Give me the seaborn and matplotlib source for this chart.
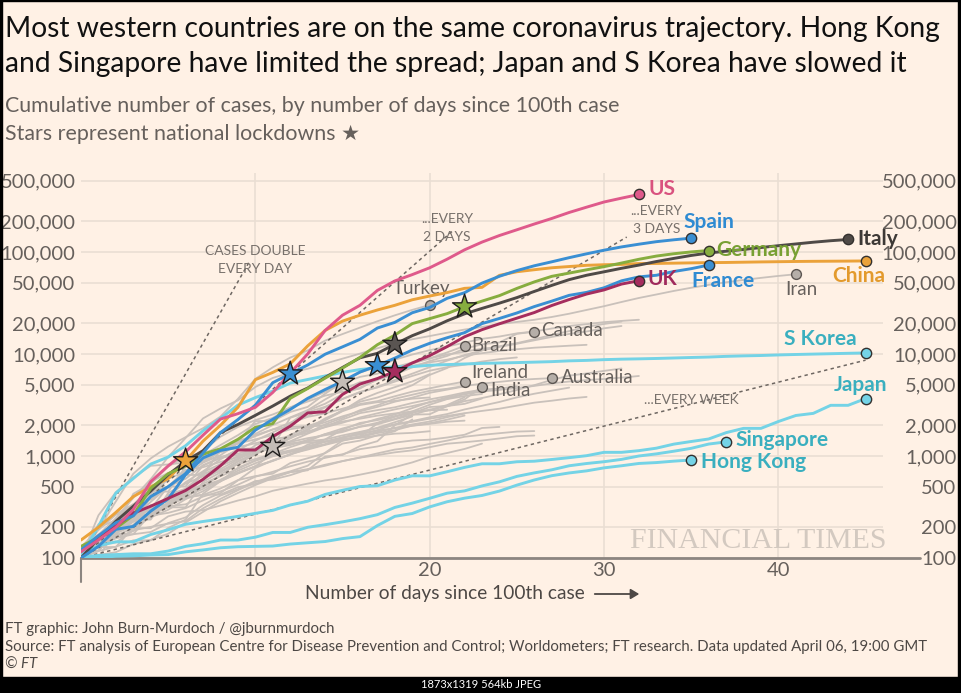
import numpy as np
import pandas as pd
import matplotlib
matplotlib.use("Agg")
import matplotlib.pyplot as plt
from matplotlib.patches import Rectangle, FancyArrowPatch
from matplotlib.ticker import NullLocator, FixedLocator
import seaborn as sns

# cumulative cases, one value per day since the 100th case
us = [115, 150, 200, 300, 560, 800, 1100, 1600, 2300, 2600, 3000, 4200, 6500, 10000, 17000, 24000, 30000,
      42000, 52000, 60000, 70000, 85000, 105000, 125000, 145000, 165000, 188000, 213000, 244000, 275000,
      309000, 337000, 366000]
spain = [120, 165, 222, 259, 400, 500, 673, 1073, 1695, 2277, 3146, 5232, 6391, 7798, 9942, 11748, 13910,
         17963, 20410, 25374, 28603, 35136, 39885, 49515, 57786, 65719, 73235, 80110, 87956, 95923, 104118,
         112065, 119199, 126168, 131646, 136675]
italy = [100, 155, 229, 322, 453, 655, 888, 1128, 1694, 2036, 2502, 3089, 3858, 4636, 5883, 7375, 9172,
         10149, 12462, 15113, 17660, 21157, 24747, 27980, 31506, 35713, 41035, 47021, 53578, 59138, 63927,
         69176, 74386, 80589, 86498, 92472, 97689, 101739, 105792, 110574, 115242, 119827, 124632, 128948,
         132547]
germany = [130, 159, 196, 262, 482, 670, 799, 1040, 1176, 1457, 1908, 2078, 3675, 4585, 5795, 7272, 9257,
           12327, 15320, 19848, 22213, 24873, 29056, 32986, 37323, 43938, 50871, 57695, 62095, 66885, 71808,
           77872, 84794, 91159, 96092, 100123, 103374]
france = [100, 130, 191, 204, 288, 380, 656, 957, 1134, 1217, 1792, 2289, 2860, 3672, 4480, 5400, 6650, 7700,
          9105, 10947, 12726, 14431, 16176, 19856, 22304, 25233, 29155, 32964, 37575, 40174, 44550, 52128,
          56989, 59105, 64338, 68605, 74390]
uk = [116, 164, 207, 274, 322, 384, 459, 590, 802, 1144, 1145, 1551, 1960, 2642, 2716, 4014, 5067, 5745, 6726,
      8164, 9640, 11812, 14745, 17312, 19780, 22453, 25481, 29865, 34173, 38689, 42477, 48440, 52279]
china = [150, 200, 280, 400, 500, 600, 900, 1400, 2000, 3000, 5600, 6600, 8000, 12000, 17000, 21000, 24000,
         27000, 30000, 34000, 37000, 40000, 44000, 45000, 59000, 64000, 67000, 70000, 72000, 74000, 75000,
         75500, 77000, 77200, 77700, 78200, 78600, 78900, 79400, 79900, 80300, 80700, 81000, 81200, 81400,
         81700]
s_korea = [104, 204, 433, 602, 833, 977, 1261, 1766, 2337, 3150, 3736, 4335, 5186, 5621, 6088, 6593, 7041,
           7314, 7478, 7513, 7755, 7869, 7979, 8086, 8162, 8236, 8320, 8413, 8565, 8652, 8799, 8897, 8961,
           9037, 9137, 9241, 9332, 9478, 9583, 9661, 9786, 9887, 9976, 10062, 10156, 10237]
japan = [105, 132, 144, 144, 170, 189, 214, 228, 241, 256, 274, 293, 331, 360, 420, 461, 502, 511, 581, 639,
         639, 701, 773, 839, 839, 878, 889, 924, 963, 1007, 1086, 1086, 1128, 1193, 1307, 1387, 1468, 1693,
         1866, 1866, 2178, 2495, 2617, 3139, 3139, 3654]
singapore = [102, 106, 108, 110, 110, 117, 130, 138, 150, 150, 160, 178, 178, 200, 212, 226, 243, 266, 313,
             345, 385, 432, 455, 509, 558, 631, 683, 732, 802, 844, 879, 926, 1000, 1049, 1114, 1189, 1309, 1375]
hong_kong = [100, 101, 104, 105, 107, 108, 115, 120, 126, 129, 130, 131, 137, 141, 145, 155, 162, 208, 256,
             273, 317, 356, 386, 410, 453, 518, 582, 641, 682, 715, 765, 802, 845, 862, 890, 914]

# grey countries with a label
iran = [100, 139, 245, 388, 593, 978, 1501, 2336, 2922, 3513, 4747, 5823, 6566, 7161, 8042, 9000, 10075,
        11364, 12729, 13938, 14991, 16169, 17361, 18407, 19644, 20610, 21638, 23049, 24811, 27017, 29406,
        32332, 35408, 38309, 41495, 44605, 47593, 50468, 53183, 55743, 58226, 60500]
turkey = [100, 191, 359, 670, 947, 1236, 1529, 1872, 2433, 3629, 5698, 7402, 9217, 10827, 13531, 15679,
          18135, 20921, 23934, 27069, 30217]
canada = [108, 117, 193, 198, 252, 415, 478, 657, 800, 943, 1277, 1469, 2088, 2790, 3251, 4042, 4682, 5576,
          6280, 7398, 8527, 9560, 11284, 12437, 12978, 15756, 16563]
brazil = [121, 200, 234, 291, 428, 621, 904, 1128, 1546, 1924, 2247, 2554, 2985, 3417, 3904, 4256, 4579,
          5717, 6836, 8044, 9056, 10360, 12000]
ireland = [129, 169, 223, 292, 557, 683, 785, 906, 1125, 1329, 1564, 1819, 2121, 2415, 2615, 2910, 3235,
           3447, 3849, 4273, 4604, 4994, 5364]
india = [100, 107, 114, 137, 151, 173, 223, 283, 360, 434, 519, 606, 694, 724, 987, 1024, 1251, 1397, 1998,
         2543, 2567, 3082, 3588, 4778]
australia = [107, 128, 128, 200, 250, 297, 377, 452, 568, 681, 791, 1071, 1549, 1682, 2044, 2364, 2810, 3143,
             3640, 3984, 4361, 4559, 4862, 5116, 5330, 5550, 5687, 5797]

# other grey countries
switzerland = [114, 214, 268, 337, 374, 491, 652, 652, 1139, 1359, 2200, 2200, 2700, 3028, 4075, 5294, 6575,
               7474, 8795, 9877, 10897, 11811, 12928, 14076, 14829, 15922, 16605, 17768, 18827, 19606, 20505,
               21100, 21657]
belgium = [109, 169, 200, 239, 267, 314, 314, 559, 689, 886, 1058, 1243, 1486, 1795, 2257, 2815, 3401, 3743,
           4269, 4937, 6235, 7284, 9134, 10836, 11899, 12775, 13964, 15348, 16770, 18431, 19691, 20814]
netherlands = [128, 188, 265, 321, 382, 503, 503, 804, 959, 1135, 1413, 1705, 2051, 2460, 2994, 3631, 4204,
               4749, 5560, 6412, 7431, 8603, 9762, 10866, 11750, 12595, 13614, 14697, 15723, 16627, 17851, 18803]
austria = [104, 131, 182, 246, 302, 504, 655, 860, 1018, 1332, 1646, 2013, 2388, 2814, 3582, 4474, 5283,
           5588, 6909, 7657, 8271, 8788, 9618, 10180, 10711, 11129, 11524, 11781, 12051, 12297]
portugal = [112, 169, 245, 331, 448, 448, 785, 1020, 1280, 1600, 2060, 2362, 2995, 3544, 4268, 5170, 5962,
            6408, 7443, 8251, 9034, 9886, 10524, 11278, 11730]
sweden = [101, 161, 203, 248, 355, 500, 599, 814, 961, 1022, 1103, 1190, 1279, 1439, 1639, 1763, 1934, 2046,
          2286, 2526, 2840, 3069, 3447, 3700, 4028, 4435, 4947, 5568, 6131, 6443, 6830, 7206]
norway = [108, 147, 176, 205, 400, 598, 702, 996, 1090, 1221, 1333, 1463, 1550, 1746, 1914, 2118, 2385, 2621,
          2863, 3084, 3369, 3755, 4015, 4284, 4445, 4641, 4863, 5147, 5370, 5550, 5687, 5865, 6086]
denmark = [100, 262, 442, 615, 801, 827, 864, 914, 977, 1057, 1151, 1255, 1326, 1395, 1450, 1591, 1724, 1877,
           2046, 2201, 2395, 2577, 2860, 3107, 3386, 3757, 4077, 4369, 4681]
israel = [109, 131, 193, 251, 255, 337, 433, 677, 705, 883, 1071, 1238, 2369, 2693, 3035, 3619, 4247, 4695,
          5358, 6092, 6857, 7428, 7851, 8430, 8904, 9248]
czechia = [100, 141, 189, 253, 298, 396, 464, 694, 833, 995, 1120, 1236, 1394, 1654, 1925, 2279, 2631, 2817,
           3001, 3308, 3589, 3858, 4190, 4472, 4587, 4822]
malaysia = [100, 117, 129, 149, 149, 197, 238, 428, 566, 673, 790, 900, 1030, 1183, 1306, 1518, 1624, 1796,
            2031, 2161, 2320, 2470, 2626, 2766, 2908, 3116, 3333, 3483, 3662, 3793]
russia = [114, 147, 199, 253, 306, 367, 438, 495, 658, 840, 1036, 1264, 1534, 1836, 2337, 2777, 3548, 4149,
          4731, 5389, 6343]
poland = [103, 119, 177, 238, 251, 355, 425, 536, 634, 749, 901, 1051, 1221, 1389, 1638, 1862, 2055, 2311,
          2554, 2946, 3383, 3627, 4102, 4413]
chile = [100, 156, 201, 238, 238, 434, 537, 632, 746, 922, 1142, 1306, 1610, 1909, 2139, 2449, 2738, 3031,
         3404, 3737, 4161, 4471, 4815]
ecuador = [111, 168, 199, 426, 532, 789, 981, 1082, 1173, 1403, 1595, 1823, 1924, 1962, 2240, 2748, 3163,
           3368, 3465, 3646, 3747]
luxembourg = [100, 140, 203, 335, 484, 670, 798, 875, 1099, 1333, 1453, 1605, 1831, 1950, 1988, 2178, 2319,
              2487, 2612, 2729, 2804, 2843]
philippines = [111, 140, 142, 187, 202, 217, 230, 307, 380, 462, 552, 636, 707, 803, 1075, 1418, 1546, 2084,
               2311, 2633, 3018, 3094, 3246, 3660]
pakistan = [100, 136, 236, 299, 454, 501, 730, 776, 875, 972, 1063, 1201, 1373, 1495, 1597, 1717, 1938, 2118,
            2421, 2686, 2818, 3157, 3766]
saudi = [103, 118, 171, 171, 274, 344, 392, 511, 562, 767, 900, 1012, 1104, 1203, 1299, 1453, 1563, 1720,
         1885, 2039, 2179, 2402, 2605]
thailand = [114, 147, 177, 212, 272, 322, 411, 599, 721, 827, 934, 1045, 1136, 1245, 1388, 1524, 1651, 1771,
            1875, 1978, 2067, 2169, 2220]
indonesia = [117, 134, 172, 227, 311, 369, 450, 514, 579, 686, 790, 893, 1046, 1155, 1285, 1414, 1528, 1677,
             1790, 1986, 2092, 2273, 2491]
finland = [109, 155, 225, 244, 277, 321, 336, 400, 450, 523, 626, 700, 792, 880, 958, 1041, 1167, 1240, 1352,
           1418, 1446, 1518, 1615, 1882, 1927]
greece = [100, 100, 190, 228, 331, 331, 387, 418, 418, 495, 530, 624, 695, 743, 821, 892, 966, 1061, 1156,
          1212, 1314, 1415, 1544, 1613, 1673, 1735, 1755]
iceland = [103, 134, 156, 171, 180, 220, 250, 330, 409, 473, 568, 588, 648, 737, 802, 890, 963, 1020, 1086,
           1135, 1220, 1319, 1364, 1417, 1486, 1562, 1586]
mexico = [118, 164, 203, 251, 316, 367, 405, 475, 585, 717, 848, 993, 1094, 1215, 1378, 1510, 1688, 1890,
          2143, 2439]
peru = [117, 145, 234, 234, 318, 363, 395, 416, 480, 580, 635, 671, 852, 950, 1065, 1323, 1414, 1595, 1746,
        2281]
egypt = [110, 126, 166, 196, 196, 256, 285, 294, 327, 366, 402, 456, 495, 536, 576, 609, 656, 710, 779, 865,
         985, 1070, 1173, 1322]
south_africa = [116, 150, 202, 240, 274, 402, 554, 709, 927, 1170, 1187, 1280, 1326, 1353, 1380, 1462, 1505,
                1585, 1655, 1686, 1749]
romania = [123, 131, 158, 184, 260, 277, 308, 367, 433, 576, 762, 906, 1029, 1292, 1452, 1815, 2109, 2245,
           2460, 2738, 3183, 3613, 3864, 4057]

# national lockdowns (day, cases)
lockdown_day = [6, 12, 11, 15, 18, 17, 18, 22]
lockdown_cases = [900, 6391, 1243, 5294, 12462, 7700, 6726, 29056]

# doubling guides: end point of each dashed line (all start at day 0, 100 cases)
guide_end_day = [9.7, 21.3, 31.3, 45]
guide_end_cases = [83000, 160000, 140000, 8700]

y_ticks = [100, 200, 500, 1000, 2000, 5000, 10000, 20000, 50000, 100000, 200000, 500000]
x_ticks = [10, 20, 30, 40]

BG = "#fff1e5"
GREY_LINE = "#c9c1bb"
GREY_TEXT = "#66605c"
CYAN = "#74d3e6"
CYAN_TEXT = "#3aafbf"
BLUE = "#3a8fd3"

sns.set_theme(style="white")
plt.rcParams["font.family"] = ["Lato", "DejaVu Sans"]

fig = plt.figure(figsize=(9.62, 6.93), dpi=100, facecolor=BG)
ax = fig.add_axes([81 / 962, 135 / 693, 802 / 962, 385.4 / 693])
ax.set_facecolor(BG)
ax.set_yscale("log")

grey_countries = [("Iran", iran), ("Turkey", turkey), ("Canada", canada), ("Brazil", brazil),
                  ("Ireland", ireland), ("India", india), ("Australia", australia),
                  ("Switzerland", switzerland), ("Belgium", belgium), ("Netherlands", netherlands),
                  ("Austria", austria), ("Portugal", portugal), ("Sweden", sweden), ("Norway", norway),
                  ("Denmark", denmark), ("Israel", israel), ("Czechia", czechia), ("Malaysia", malaysia),
                  ("Russia", russia), ("Poland", poland), ("Chile", chile), ("Ecuador", ecuador),
                  ("Luxembourg", luxembourg), ("Philippines", philippines), ("Pakistan", pakistan),
                  ("Saudi Arabia", saudi), ("Thailand", thailand), ("Indonesia", indonesia),
                  ("Finland", finland), ("Greece", greece), ("Iceland", iceland), ("Mexico", mexico),
                  ("Peru", peru), ("Egypt", egypt), ("South Africa", south_africa), ("Romania", romania)]

grey_df = pd.concat([pd.DataFrame({"country": n, "day": np.arange(len(v)), "cases": v})
                     for n, v in grey_countries], ignore_index=True)
sns.lineplot(data=grey_df, x="day", y="cases", units="country", estimator=None, color=GREY_LINE,
             lw=1.3, ax=ax, zorder=2, legend=False)

# doubling guides
for d, c in zip(guide_end_day, guide_end_cases):
    ax.plot([0, d], [100, c], ls=(0, (2.2, 2.2)), color="#6e6762", lw=1.1, zorder=3)

# highlighted countries: (name, values, line colour, label colour, label offset px, ha)
highlight = [
    ("Hong Kong", hong_kong, CYAN, CYAN_TEXT, (10, -2), "left"),
    ("Singapore", singapore, CYAN, CYAN_TEXT, (9, 2), "left"),
    ("Japan", japan, CYAN, CYAN_TEXT, (22, 14), "right"),
    ("S Korea", s_korea, CYAN, CYAN_TEXT, (-9, 14), "right"),
    ("China", china, "#eba23a", "#e39a2c", (20, -15), "right"),
    ("Italy", italy, "#4f4a47", "#3d3936", (9, 0), "left"),
    ("Germany", germany, "#87ad3f", "#78a033", (8, 1), "left"),
    ("France", france, BLUE, "#2f8bd2", (-17, -16), "left"),
    ("UK", uk, "#a52d5e", "#a02a5c", (9, 2), "left"),
    ("Spain", spain, BLUE, "#2f8bd2", (-8, 16), "left"),
    ("US", us, "#df5a8b", "#d9527f", (10, 5), "left"),
]

for i, (name, vals, lc, tc, off, ha) in enumerate(highlight):
    days = np.arange(len(vals))
    sns.lineplot(x=days, y=vals, color=lc, lw=2.1, ax=ax, zorder=5 + i * 0.01)

# lockdown stars
star_colors = ["#eba23a", BLUE, "#c4bdb7", "#c4bdb7", "#5a5552", BLUE, "#a52d5e", "#87ad3f"]
ax.scatter(lockdown_day, lockdown_cases, marker="*", s=330, c=star_colors, edgecolors="#1f1d1c",
           linewidths=1.0, zorder=8)

# end markers + labels, highlighted
for name, vals, lc, tc, off, ha in highlight:
    x_end, y_end = len(vals) - 1, vals[-1]
    sns.scatterplot(x=[x_end], y=[y_end], s=55, color=lc, edgecolor="#33302e", linewidth=1.0,
                    ax=ax, zorder=9, clip_on=False)
    ax.annotate(name, (x_end, y_end), xytext=off, textcoords="offset pixels", ha=ha, va="center",
                fontsize=15, fontweight="bold", color=tc, zorder=10, annotation_clip=False)

# end markers + labels, grey
grey_labels = [("Turkey", turkey, (-37, 16)), ("Iran", iran, (-11, -15)), ("Canada", canada, (7, 1)),
               ("Brazil", brazil, (7, 0)), ("Ireland", ireland, (7, 9)), ("India", india, (8, -4)),
               ("Australia", australia, (9, 1))]
for name, vals, off in grey_labels:
    x_end, y_end = len(vals) - 1, vals[-1]
    sns.scatterplot(x=[x_end], y=[y_end], s=50, color="#b5aea8", edgecolor="#5c5652", linewidth=1.0,
                    ax=ax, zorder=4)
    ax.annotate(name, (x_end, y_end), xytext=off, textcoords="offset pixels", ha="left", va="center",
                fontsize=13.5, color=GREY_TEXT, zorder=4)

# guide labels
guide_txt = dict(fontsize=10, color="#77706b", ha="center", va="center", linespacing=1.6, zorder=3)
ax.text(10, 83000, "CASES DOUBLE\nEVERY DAY", **guide_txt)
ax.text(21.0, 170000, "...EVERY\n2 DAYS", **guide_txt)
ax.text(33.0, 205000, "...EVERY\n3 DAYS", **guide_txt)
ax.text(35.0, 3530, "...EVERY WEEK", **guide_txt)

# axes styling
ax.set_xlim(0, 46)
ax.set_ylim(100, 600000)
ax.yaxis.set_major_locator(FixedLocator(y_ticks))
ax.yaxis.set_minor_locator(NullLocator())
ax.set_yticklabels([f"{t:,}" for t in y_ticks])
ax.set_xticks(x_ticks)
ax.set_xticklabels([str(t) for t in x_ticks])
ax.set_xlabel("")
ax.set_ylabel("")
ax.grid(True, color="#eaded3", lw=1.2, zorder=0)
ax.set_axisbelow(True)
for s in ax.spines.values():
    s.set_visible(False)
ax.tick_params(axis="y", length=0, pad=4, labelsize=14.5, labelcolor=GREY_TEXT)
ax.tick_params(axis="x", length=0, pad=3, labelsize=14.5, labelcolor=GREY_TEXT)
ax.axhline(100, xmin=0, xmax=(920 - 81) / 802, color="#8c8580", lw=2, clip_on=False, zorder=4)
ax.axvline(0, ymin=-24 / 385.4, ymax=0, color="#8c8580", lw=1.5, clip_on=False)

ax2 = ax.twinx()
ax2.set_yscale("log")
ax2.set_ylim(ax.get_ylim())
ax2.yaxis.set_major_locator(FixedLocator(y_ticks))
ax2.yaxis.set_minor_locator(NullLocator())
ax2.set_yticklabels([f"{t:,}" for t in y_ticks])
ax2.tick_params(axis="y", length=0, pad=53, labelsize=14.5, labelcolor=GREY_TEXT)
for lab in ax2.get_yticklabels():
    lab.set_horizontalalignment("right")
for s in ax2.spines.values():
    s.set_visible(False)
ax2.grid(False)

# watermark
fig.text(758 / 962, 1 - 541 / 693, "FINANCIAL TIMES", family="Liberation Serif", fontsize=21.5,
         color="#d3c9c0", ha="center", va="center")

# titles
fig.text(5 / 962, 1 - 37 / 693, "Most western countries are on the same coronavirus trajectory. Hong Kong",
         fontsize=20.3, color="#111", va="baseline")
fig.text(5 / 962, 1 - 72 / 693, "and Singapore have limited the spread; Japan and S Korea have slowed it",
         fontsize=20.3, color="#111", va="baseline")
fig.text(5 / 962, 1 - 112 / 693, "Cumulative number of cases, by number of days since 100th case",
         fontsize=15.4, color=GREY_TEXT, va="baseline")
fig.text(5 / 962, 1 - 140 / 693, "Stars represent national lockdowns \u2605",
         fontsize=15.4, color=GREY_TEXT, va="baseline")

# x label with arrow
fig.text(445 / 962, 1 - 593 / 693, "Number of days since 100th case", fontsize=13.8, color="#4d4845",
         ha="center", va="center")
fig.patches.append(FancyArrowPatch((592 / 962, 1 - 594 / 693), (642 / 962, 1 - 594 / 693),
                                   transform=fig.transFigure, arrowstyle="-|>,head_length=5,head_width=3",
                                   color="#4d4845", lw=1.3))

# footer
foot = dict(fontsize=10.8, color="#4d4845", va="baseline")
fig.text(5 / 962, 1 - 633 / 693, "FT graphic: John Burn-Murdoch / @jburnmurdoch", **foot)
fig.text(5 / 962, 1 - 651 / 693, "Source: FT analysis of European Centre for Disease Prevention and Control; "
         "Worldometers; FT research. Data updated April 06, 19:00 GMT", **foot)
fig.text(5 / 962, 1 - 669 / 693, "\u00a9 FT", style="italic", **foot)

# screenshot frame
fig.patches.append(Rectangle((0, 0), 1, 16 / 693, transform=fig.transFigure, color="black", zorder=20))
fig.patches.append(Rectangle((0, 0), 2 / 962, 1, transform=fig.transFigure, color="black", zorder=20))
fig.patches.append(Rectangle((958 / 962, 0), 4 / 962, 1, transform=fig.transFigure, color="black", zorder=20))
fig.patches.append(Rectangle((0, 1 - 1 / 693), 1, 1 / 693, transform=fig.transFigure, color="black", zorder=20))
fig.text(481 / 962, 8 / 693, "1873x1319 564kb JPEG", fontsize=8, color="white", ha="center", va="center",
         zorder=21)

fig.savefig("out.png", dpi=100, facecolor=BG)
